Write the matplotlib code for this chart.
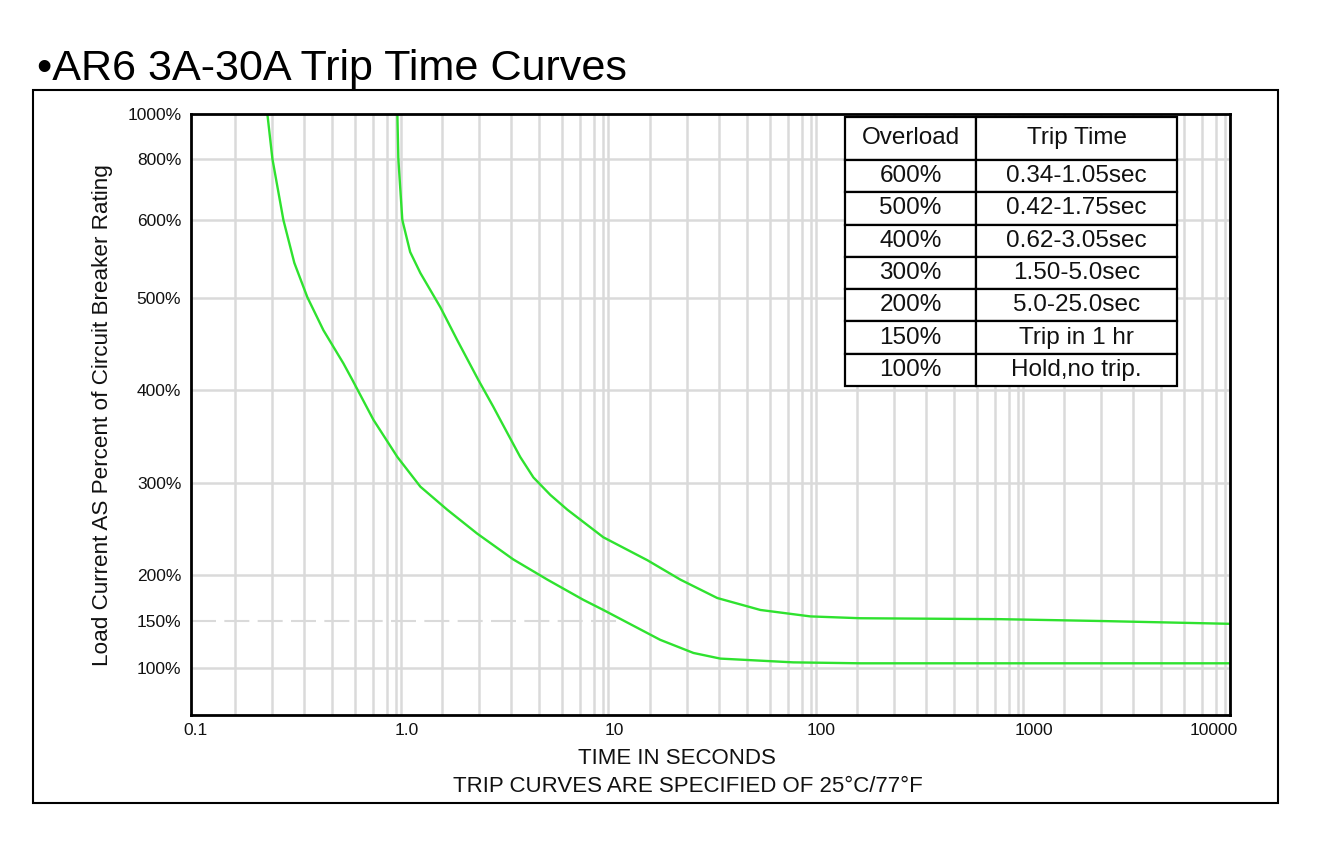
import matplotlib
matplotlib.use("Agg")
import matplotlib.pyplot as plt
import matplotlib.transforms as mtransforms
from matplotlib.patches import Rectangle
import numpy as np

plt.rcParams['font.family'] = ['Liberation Sans', 'DejaVu Sans']

# trip curves: time in seconds, load in percent of rating
fast_time = [0.2335, 0.247, 0.279, 0.315, 0.364, 0.435, 0.543, 0.600, 0.758, 0.989,
             1.277, 1.72, 2.40, 3.58, 5.23, 7.80, 9.74, 18.3, 26.5, 35.7, 80.3, 169, 10250]
fast_load = [1000, 800, 600, 545, 501, 465, 429, 411, 368, 328,
             296, 271, 245, 217, 195, 173, 162, 130, 116, 110, 106, 105, 105]

slow_time = [0.989, 1.0, 1.045, 1.14, 1.277, 1.594, 1.925, 2.43, 2.87, 3.10, 3.35,
             3.87, 4.48, 5.41, 6.53, 9.74, 15.9, 22.9, 34.5, 55.7, 97, 169, 799, 2426, 10250]
slow_load = [1000, 800, 600, 559, 532, 490, 454, 411, 382, 368, 354,
             328, 306, 287, 271, 241, 216, 195, 175, 162, 155, 153, 152, 150, 147]

# table contents
overload = ['600%', '500%', '400%', '300%', '200%', '150%', '100%']
trip_time = ['0.34-1.05sec', '0.42-1.75sec', '0.62-3.05sec', '1.50-5.0sec',
             '5.0-25.0sec', 'Trip in 1 hr', 'Hold,no trip.']

# axis ticks
x_ticks = [0.1, 1, 10, 100, 1000, 10000]
x_labels = ['0.1', '1.0', '10', '100', '1000', '10000']
y_ticks = [100, 150, 200, 300, 400, 500, 600, 800, 1000]
y_labels = ['100%', '150%', '200%', '300%', '400%', '500%', '600%', '800%', '1000%']

# the percent axis of the original is not linear or log: piecewise scale
y_knots = [50, 100, 150, 200, 300, 400, 500, 600, 800, 1000]
y_knot_pos = [0, 47, 94, 140, 232, 325, 417, 495, 556, 601]

# the original grid lines inside each decade
minor_mult = [1.63, 2.46, 3.51, 4.79, 6.18, 7.55, 8.81]
major_mult = [0.9726, 1.0282]

GREEN = '#2fe22f'
GRID = '#dadada'


def fwd(v):
    return np.interp(v, y_knots, y_knot_pos)


def inv(p):
    return np.interp(p, y_knot_pos, y_knots)


W, H = 1329, 843
fig = plt.figure(figsize=(W / 100, H / 100), dpi=100)
ax = fig.add_axes([191 / W, 1 - 715 / H, (1230 - 191) / W, (715 - 114) / H])

ax.set_xscale('log')
ax.set_yscale('function', functions=(fwd, inv))
ax.set_xlim(0.1, 10250)
ax.set_ylim(50, 1000)

# grid
for k in range(-1, 4):
    for m in minor_mult:
        ax.axvline(m * 10 ** k, color=GRID, lw=1.8, zorder=1)
for k in range(0, 5):
    for m in major_mult:
        ax.axvline(m * 10 ** k, color=GRID, lw=1.8, zorder=1)
for v in y_ticks[:-1]:
    if v == 150:
        continue
    ax.axhline(v, color=GRID, lw=1.8, zorder=1)
ax.plot([0.1, 12], [150, 150], color=GRID, lw=1.5, dashes=[12, 4], zorder=1)

# curves
ax.plot(fast_time, fast_load, color=GREEN, lw=1.7, zorder=3)
ax.plot(slow_time, slow_load, color=GREEN, lw=1.7, zorder=3)

# ticks
ax.minorticks_off()
ax.set_xticks(x_ticks)
ax.set_xticklabels(x_labels)
ax.set_yticks(y_ticks)
ax.set_yticklabels(y_labels)
ax.tick_params(length=0, labelsize=12.5, colors='#111111')
ax.tick_params(axis='y', pad=7)
ax.tick_params(axis='x', pad=6)
x_offsets = [4, 8, 9, 8, 14, -14]
for lab, dx in zip(ax.get_xticklabels(), x_offsets):
    lab.set_transform(lab.get_transform() +
                      mtransforms.ScaledTranslation(dx / 100, 0, fig.dpi_scale_trans))

for sp in ax.spines.values():
    sp.set_linewidth(2)
    sp.set_color('black')
    sp.set_zorder(4)

# table
cell_text = [[o, t] for o, t in zip(overload, trip_time)]
tb = ax.table(cellText=cell_text, colLabels=['Overload', 'Trip Time'],
              colWidths=[0.3946, 0.6054], cellLoc='center',
              bbox=[0.6295, 0.5474, 0.3195, 0.4476], zorder=5)
tb.auto_set_font_size(False)
tb.set_fontsize(17.5)
for (r, c), cell in tb.get_celld().items():
    cell.set_linewidth(1.6)
    cell.set_edgecolor('black')
    cell.set_facecolor('white')
    cell.set_height(43 if r == 0 else 32.3)
    cell.get_text().set_color('#111111')

# labels and title
fig.text(103 / W, 1 - 415 / H, 'Load Current AS Percent of Circuit Breaker Rating',
         rotation=90, ha='center', va='center', fontsize=16.2, color='#111111')
fig.text(677 / W, 1 - 758 / H, 'TIME IN SECONDS', ha='center', va='center',
         fontsize=16, color='#111111')
fig.text(688 / W, 1 - 786 / H, 'TRIP CURVES ARE SPECIFIED OF 25°C/77°F',
         ha='center', va='center', fontsize=16, color='#111111')
fig.text(37 / W, 1 - 80 / H, '•AR6 3A-30A Trip Time Curves', ha='left',
         va='baseline', fontsize=31.1, color='black')

fig.add_artist(Rectangle((33 / W, 1 - 803 / H), (1278 - 33) / W, (803 - 90) / H,
                         transform=fig.transFigure, fill=False, lw=1.5,
                         edgecolor='black'))

fig.savefig('out.png', dpi=100)
